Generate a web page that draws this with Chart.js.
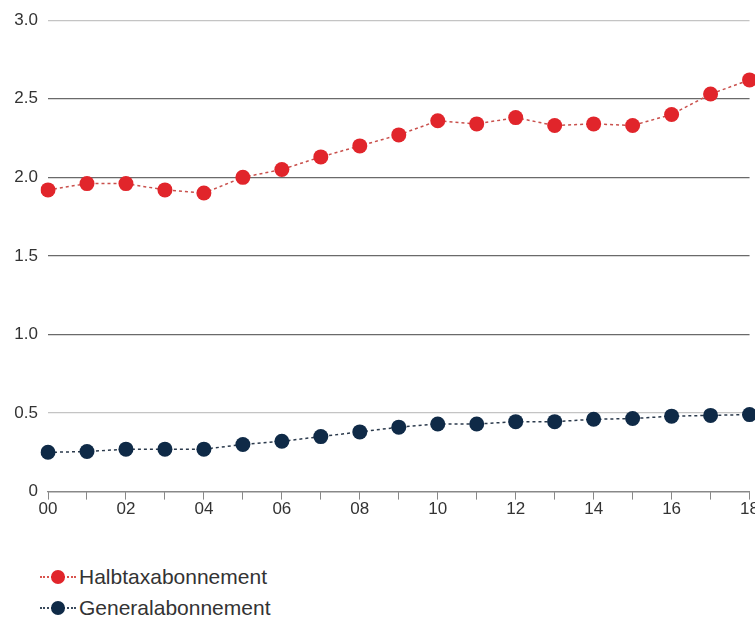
<html>
<head>
	<meta charset="utf-8">
	<title>Halbtax und GA</title>
	<script src="https://cdn.jsdelivr.net/npm/chart.js@4.4.1/dist/chart.umd.min.js"></script>
	<style>
		body { margin: 0; overflow: hidden; background: #fff; font-family: "Liberation Sans", Arial, sans-serif; }
		#wrap { position: absolute; left: 0; top: 0; width: 759px; height: 520px; }
		#legende { position: absolute; left: 40px; top: 561px; color: #333; font-size: 21px; }
		.item { height: 31px; line-height: 31px; display: flex; align-items: center; }
		.sym { position: relative; width: 36px; height: 14px; margin-right: 3px; }
		.sym .ligne { position: absolute; left: 0; right: 0; top: 6px; border-top: 2px dotted; }
		.sym .pt { position: absolute; left: 11px; top: 0; width: 14px; height: 14px; border-radius: 50%; }
	</style>
</head>
<body>
	<div id="wrap"><canvas id="myChart"></canvas></div>

	<div id="legende">
		<div class="item"><span class="sym"><span class="ligne" style="border-color:#d9554f"></span><span class="pt" style="background:#e1252b"></span></span>Halbtaxabonnement</div>
		<div class="item"><span class="sym"><span class="ligne" style="border-color:#3a4a5c"></span><span class="pt" style="background:#0f2a47"></span></span>Generalabonnement</div>
	</div>

	<script>
		// Jahre 2000 - 2018
		var annees = ["00","01","02","03","04","05","06","07","08","09","10","11","12","13","14","15","16","17","18"];

		// Mio. Abonnemente
		var halbtax = [1.92, 1.96, 1.96, 1.92, 1.90, 2.00, 2.05, 2.13, 2.20, 2.27, 2.36, 2.34, 2.38, 2.33, 2.34, 2.33, 2.40, 2.53, 2.62];
		var general = [0.25, 0.255, 0.27, 0.27, 0.27, 0.30, 0.32, 0.35, 0.38, 0.41, 0.43, 0.43, 0.445, 0.445, 0.46, 0.465, 0.48, 0.485, 0.49];

		var ctx = document.getElementById('myChart').getContext('2d');
		var chart = new Chart(ctx, {
			type: 'line',
			data: {
				labels: annees,
				datasets: [{
					label: 'Halbtaxabonnement',
					data: halbtax,
					borderColor: '#c9504c',
					borderWidth: 1.5,
					borderDash: [3, 3],
					pointBackgroundColor: '#e1252b',
					pointBorderWidth: 0,
					pointRadius: 7.5,
					fill: false
				},
				{
					label: 'Generalabonnement',
					data: general,
					borderColor: '#2b3a4c',
					borderWidth: 1.5,
					borderDash: [3, 3],
					pointBackgroundColor: '#0f2a47',
					pointBorderWidth: 0,
					pointRadius: 7.5,
					fill: false
				}]
			},
			options: {
				responsive: true,
				maintainAspectRatio: false,
				animation: false,
				layout: { padding: { top: 12, right: 0, left: 0, bottom: 0 } },
				plugins: {
					legend: { display: false },
					tooltip: { enabled: false }
				},
				scales: {
					x: {
						offset: false,
						grid: { drawOnChartArea: false, drawTicks: true, tickLength: 8, color: '#888' },
						border: { display: true, color: '#888', width: 1.2 },
						ticks: {
							autoSkip: false,
							maxRotation: 0,
							padding: 0,
							color: '#333',
							font: { family: 'Liberation Sans', size: 17 },
							callback: function(v, i) { return i % 2 == 0 ? annees[i] : ''; }
						}
					},
					y: {
						min: 0,
						max: 3,
						afterFit: function(s) { s.width = 48; },
						grid: {
							drawTicks: false,
							lineWidth: 1.2,
							color: function(c) {
								if (c.tick.value == 3 || c.tick.value == 0.5) return '#c4c4c4';
								return '#6a6a6a';
							}
						},
						border: { display: false },
						ticks: {
							stepSize: 0.5,
							padding: 10,
							color: '#333',
							font: { family: 'Liberation Sans', size: 17 },
							callback: function(v) { return v == 0 ? '0' : v.toFixed(1); }
						}
					}
				}
			}
		});
	</script>
</body>
</html>
